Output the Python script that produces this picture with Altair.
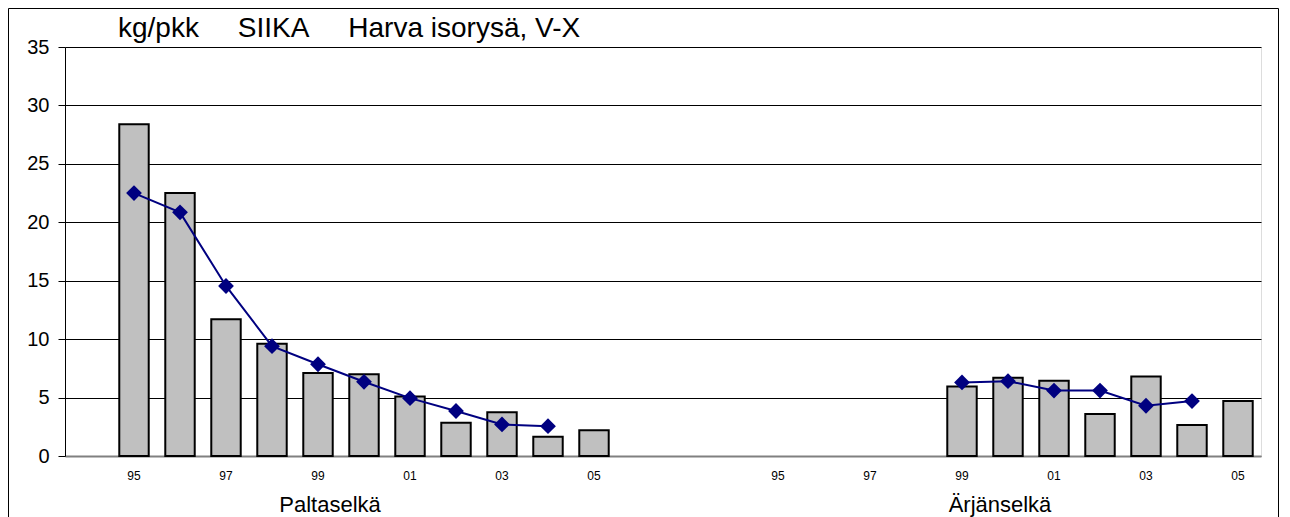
import altair as alt
import pandas as pd

# ---- data ----
years = ["95", "96", "97", "98", "99", "00", "01", "02", "03", "04", "05"]
group_names = ["Paltaselkä", "Ärjänselkä"]
group_keys = ["P", "A"]

palta_bar = [28.4, 22.5, 11.7, 9.6, 7.1, 7.0, 5.1, 2.85, 3.75, 1.65, 2.2]
palta_line = [22.5, 20.85, 14.55, 9.4, 7.85, 6.35, 4.95, 3.85, 2.7, 2.55, None]
arjan_bar = [None, None, None, None, 5.95, 6.7, 6.45, 3.6, 6.8, 2.65, 4.7]
arjan_line = [None, None, None, None, 6.3, 6.4, 5.6, 5.6, 4.3, 4.7, None]

labelled_years = ["95", "97", "99", "01", "03", "05"]
y_ticks = [0, 5, 10, 15, 20, 25, 30, 35]
title_text = "kg/pkk\u00a0\u00a0\u00a0\u00a0\u00a0SIIKA\u00a0\u00a0\u00a0\u00a0\u00a0Harva isorysä, V-X"

# ---- table built from the arrays ----
rows = []
for key, name, bars, line in [("P", group_names[0], palta_bar, palta_line),
                              ("A", group_names[1], arjan_bar, arjan_line)]:
    for y, b, l in zip(years, bars, line):
        rows.append({"slot": key + y, "group": name, "bar": b, "line": l})
df = pd.DataFrame(rows)

slots = ["s0"] + ["P" + y for y in years] + ["g1", "g2", "g3"] + ["A" + y for y in years]
label_slots = ["P" + y for y in labelled_years] + ["A" + y for y in labelled_years]

FONT = "Liberation Sans"
W, H = 1196, 409

xscale = alt.Scale(domain=slots, paddingInner=0.36, paddingOuter=0.18)
xaxis = alt.Axis(values=label_slots, labelExpr="substring(datum.value, 1)",
                 title=None, ticks=False, tickSize=0, labelAngle=0,
                 labelFontSize=12, labelPadding=19, labelBaseline="middle",
                 labelColor="black", labelFont=FONT,
                 domainColor="#808080", domainWidth=2, grid=False)
yaxis = alt.Axis(values=y_ticks, title=None, labelFontSize=20, labelFont=FONT,
                 labelColor="black", labelPadding=9, tickSize=7, tickColor="black",
                 domainColor="black", domainWidth=1,
                 grid=True, gridWidth=1,
                 gridColor={"condition": {"test": "datum.value === 0", "value": "#808080"},
                            "value": "black"})

base = alt.Chart(df)

bars = base.transform_filter("isValid(datum.bar)").mark_bar(
    color="#C0C0C0", stroke="black", strokeWidth=2
).encode(
    x=alt.X("slot:N", scale=xscale, axis=xaxis, sort=slots),
    y=alt.Y("bar:Q", scale=alt.Scale(domain=[0, 35], nice=False), axis=yaxis),
)

line = base.transform_filter("isValid(datum.line)").mark_line(
    color="#000080", strokeWidth=2
).encode(
    x=alt.X("slot:N", scale=xscale, sort=slots),
    y=alt.Y("line:Q"),
    detail="group:N",
)

points = base.transform_filter("isValid(datum.line)").mark_point(
    shape="diamond", filled=True, size=250, color="#000080", opacity=1
).encode(
    x=alt.X("slot:N", scale=xscale, sort=slots),
    y=alt.Y("line:Q"),
)

border = alt.Chart(pd.DataFrame({"k": [0]})).mark_rect(
    fill="white", fillOpacity=0, stroke="black", strokeWidth=1
).encode(
    x=alt.value(-56.5), x2=alt.value(1213.5),
    y=alt.value(-38.5), y2=alt.value(600),
)

title = alt.Chart(pd.DataFrame({"t": [title_text]})).mark_text(
    align="left", baseline="alphabetic", fontSize=28, font=FONT, color="black"
).encode(x=alt.value(53), y=alt.value(-10), text="t:N")

lab_p = alt.Chart(pd.DataFrame({"slot": ["P99"], "label": [group_names[0]]})).mark_text(
    align="center", baseline="alphabetic", fontSize=22, font=FONT, color="black", dx=12
).encode(x=alt.X("slot:N", scale=xscale, sort=slots), y=alt.value(465), text="label:N")

lab_a = alt.Chart(pd.DataFrame({"slot": ["A00"], "label": [group_names[1]]})).mark_text(
    align="center", baseline="alphabetic", fontSize=22, font=FONT, color="black", dx=-8
).encode(x=alt.X("slot:N", scale=xscale, sort=slots), y=alt.value(465), text="label:N")

chart = alt.layer(border, bars, line, points, title, lab_p, lab_a).properties(
    width=W, height=H,
    autosize=alt.AutoSizeParams(type="none"),
    padding={"left": 57, "top": 39, "right": 21, "bottom": 61},
).configure_view(stroke=None).configure(background="white")

chart.save("out.html", embed_options={"renderer": "svg", "actions": False})
